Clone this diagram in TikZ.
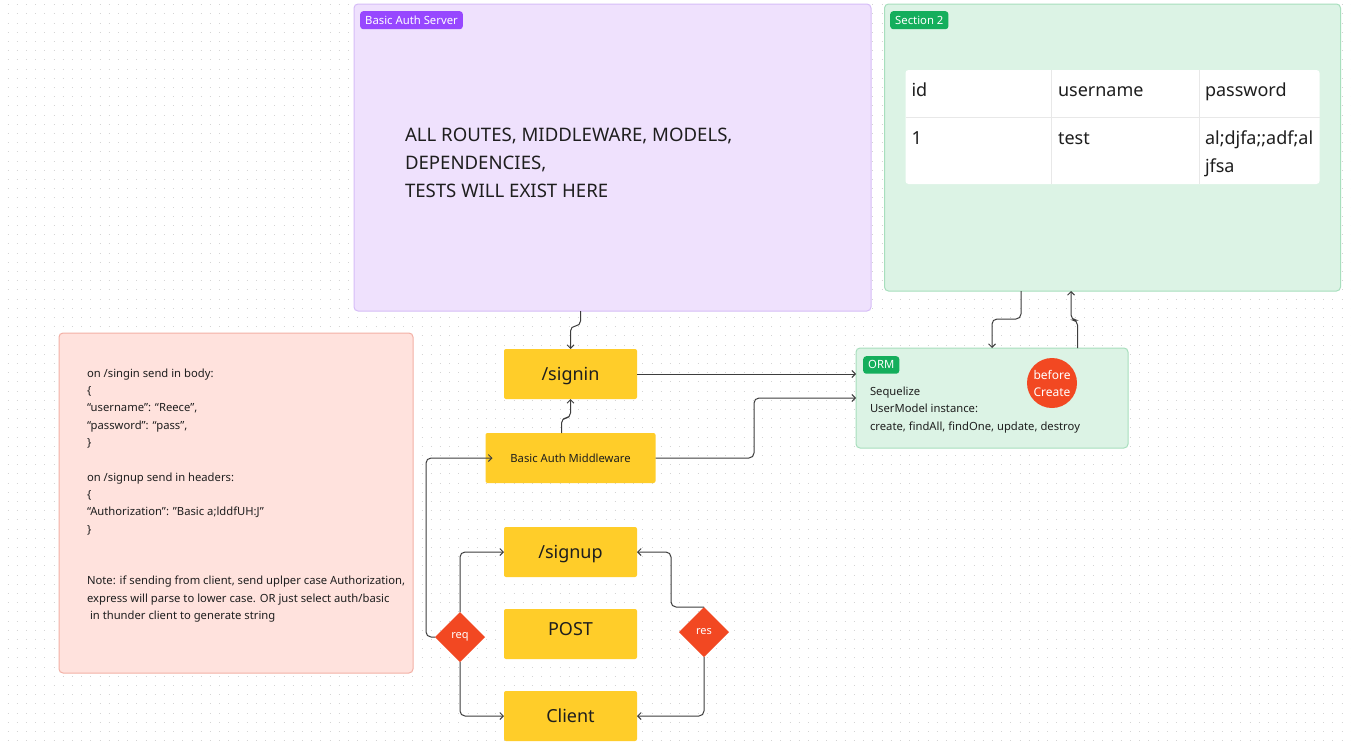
\documentclass[tikz,border=0pt]{standalone}
\usepackage{fontspec}
\setmainfont{Noto Sans}
\usetikzlibrary{arrows.meta,shapes.geometric}
\definecolor{ink}{HTML}{1E1E1E}
\definecolor{lnc}{HTML}{3D3D3D}
\definecolor{dotc}{HTML}{D4D4D4}
\definecolor{purF}{HTML}{EFE1FD}
\definecolor{purB}{HTML}{D6BDF7}
\definecolor{greF}{HTML}{DCF3E5}
\definecolor{greB}{HTML}{A7DFBD}
\definecolor{pinkF}{HTML}{FFE2DD}
\definecolor{pinkB}{HTML}{F3B0A5}
\definecolor{yel}{HTML}{FFCD29}
\definecolor{redc}{HTML}{F24822}
\definecolor{tagP}{HTML}{9747FF}
\definecolor{tagG}{HTML}{14AE5C}
\definecolor{tdiv}{HTML}{E8E8E8}
\begin{document}
\begin{tikzpicture}[x=1pt,y=-1pt,
  gridrow/.style={draw=dotc, line width=1pt, dash pattern=on 1pt off 8.2pt, dash phase=1.7pt},
  frame/.style={rectangle, rounded corners=4pt, line width=1pt, inner sep=0pt, outer sep=0pt, anchor=north west},
  tag/.style={rectangle, rounded corners=3pt, text=white, font=\fontsize{11.3}{13}\selectfont, inner xsep=5pt, inner ysep=0pt, minimum height=18pt, anchor=north west},
  ybox/.style={rectangle, rounded corners=2pt, fill=yel, text=ink, font=\fontsize{18}{22}\selectfont, inner sep=0pt, outer sep=0pt, minimum height=50pt, text height=13pt, text depth=0pt},
  conn/.style={draw=lnc, line width=1pt, rounded corners=5pt, -{Straight Barb[length=3.5pt,width=7pt]}},
  dia/.style={diamond, fill=redc, text=white, minimum width=50pt, minimum height=50pt, inner sep=0pt, outer sep=0pt, font=\fontsize{11}{13}\selectfont},
  txt/.style={inner sep=0pt, outer sep=0pt, text=ink, align=left},
]
\useasboundingbox (0,0) rectangle (1351,745);
\fill[white] (0,0) rectangle (1351,745);
\foreach \k in {0,...,80} \draw[gridrow] (0,{4.7+9.2*\k}) -- (1351,{4.7+9.2*\k});

% frames
\node[frame, fill=purF, draw=purB, minimum width=517pt, minimum height=307pt] (server) at (354,4) {};
\node[tag, fill=tagP] (servertag) at (360,11) {Basic Auth Server};
\node[txt, anchor=north west, font=\fontsize{18.6}{28}\selectfont] (servertext) at (405,128.5)
  {ALL ROUTES, MIDDLEWARE, MODELS,\\DEPENDENCIES,\\TESTS WILL EXIST HERE};

\node[frame, fill=greF, draw=greB, minimum width=456pt, minimum height=287pt] (sec) at (884.5,4) {};
\node[tag, fill=tagG] (sectag) at (890,11) {Section 2};

% table
\node[rectangle, rounded corners=3pt, fill=white, inner sep=0pt, outer sep=0pt, minimum width=414pt, minimum height=114pt, anchor=north west] (tbl) at (905.5,70) {};
\draw[tdiv, line width=1pt] (905.5,117.5) -- (1319.5,117.5);
\draw[tdiv, line width=1pt] (1051.5,70) -- (1051.5,184);
\draw[tdiv, line width=1pt] (1199,70) -- (1199,184);
\begin{scope}[every node/.style={txt, font=\fontsize{18}{28}\selectfont}]
\node[anchor=base west] (c11) at (911.5,96.5) {id};
\node[anchor=base west] (c12) at (1058,96.5) {username};
\node[anchor=base west] (c13) at (1205,96.5) {password};
\node[anchor=base west] (c21) at (911.5,144.5) {1};
\node[anchor=base west] (c22) at (1058,144.5) {test};
\node[anchor=north west] (c23) at (1205,130.5) {al;djfa;;adf;al\\jfsa};
\end{scope}

% note
\node[frame, fill=pinkF, draw=pinkB, minimum width=354pt, minimum height=340pt] (note) at (59,333) {};
\node[txt, anchor=north west, font=\fontsize{11.25}{17.3}\selectfont] (notetext) at (87,368.8)
  {on /singin send in body:\\
   \{\\
   “username”: “Reece”,\\
   “password”: “pass”,\\
   \}\\[17.3pt]
   on /signup send in headers:\\
   \{\\
   “Authorization”: "Basic a;lddfUH:J"\\
   \}\\[34.6pt]
   Note: if sending from client, send uplper case Authorization,\\
   express will parse to lower case. OR just select auth/basic\\
   \hspace{3pt}in thunder client to generate string};

% ORM
\node[frame, fill=greF, draw=greB, minimum width=272pt, minimum height=100pt] (orm) at (856,348) {};
\node[tag, fill=tagG, minimum height=17.5pt] (ormtag) at (863,356) {ORM};
\node[txt, anchor=north west, font=\fontsize{11.25}{17.3}\selectfont] (ormtext) at (870,387)
  {Sequelize\\UserModel instance:\\create, findAll, findOne, update, destroy};
\node[circle, fill=redc, text=white, minimum size=50pt, inner sep=0pt, align=center, font=\fontsize{12}{17}\selectfont] (hook) at (1052,383) {before\\Create};

% yellow boxes
\node[ybox, minimum width=133pt] (signin) at (570.5,374) {/signin};
\node[ybox, minimum width=170pt, font=\fontsize{11.25}{14}\selectfont, text height=8pt] (mw) at (570.5,458) {Basic Auth Middleware};
\node[ybox, minimum width=133pt] (signup) at (570.5,552) {/signup};
\node[ybox, minimum width=133pt, text depth=11pt] (post) at (570.5,634) {POST};
\node[ybox, minimum width=133pt] (client) at (570.5,716) {Client};

% diamonds
\node[dia] (req) at (460,637) {req};
\node[dia] (res) at (704,632) {res};

% connectors
\draw[conn] ([xshift=-32pt]server.south) -- ++(0,15) -| (signin.north);
\draw[conn] ([xshift=-9pt]mw.north) -- ++(0,-15) -| (signin.south);
\draw[conn] (signin.east) -- (signin.east -| orm.west);
\draw[conn] (mw.east) -| ([xshift=-102pt]orm.west) -- (orm.west);
\draw[conn] ([xshift=-91.5pt]sec.south) -- ++(0,28) -| (orm.north);
\draw[conn] ([xshift=85.5pt]orm.north) -- ++(0,-28) -| ([xshift=-41.5pt]sec.south);
\draw[conn] (req.west) -- ++(-9,0) |- ([xshift=7pt]mw.west);
\draw[conn] (req.north) |- (signup.west);
\draw[conn] (req.south) |- (client.west);
\draw[conn] (res.north) -- ++(-33,0) |- (signup.east);
\draw[conn] (res.south) |- (client.east);
\end{tikzpicture}
\end{document}
